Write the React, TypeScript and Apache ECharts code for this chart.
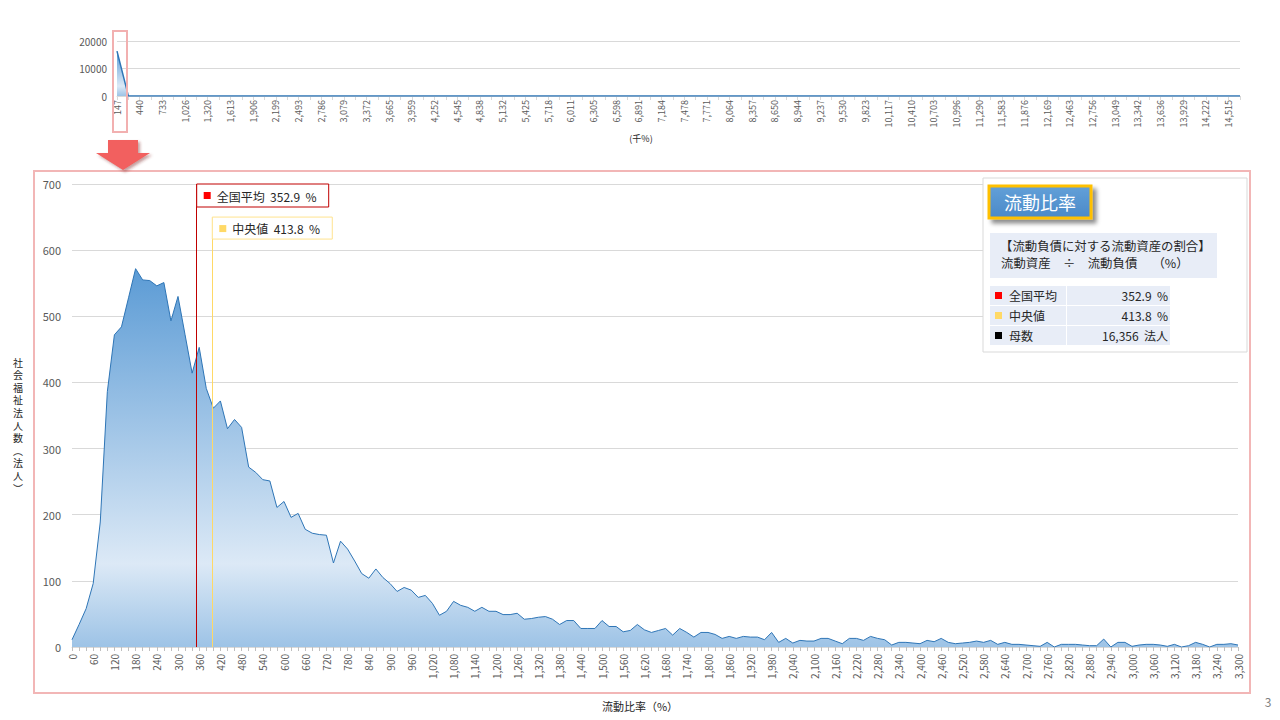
import React, { useEffect, useRef } from "react";
import * as echarts from "echarts";

// ---- Main histogram: bins of 20 % (0 … 3,300 %) ----
const BIN_WIDTH = 20;
const mainCounts = [
  11, 34, 58, 96, 189, 386, 472, 484, 528, 572,
  555, 554, 546, 551, 493, 530, 472, 414, 453, 391,
  361, 372, 330, 344, 332, 272, 264, 253, 251, 211,
  220, 196, 202, 178, 172, 170, 169, 127, 160, 148,
  130, 111, 104, 118, 105, 96, 84, 90, 86, 75,
  78, 66, 48, 54, 69, 63, 60, 54, 60, 54,
  54, 49, 49, 51, 42, 43, 45, 46, 42, 34,
  40, 40, 28, 28, 28, 40, 31, 31, 23, 25,
  34, 26, 22, 25, 28, 18, 28, 22, 15, 22,
  22, 19, 13, 16, 13, 16, 15, 15, 11, 22,
  7, 13, 6, 10, 9, 9, 13, 13, 9, 5,
  13, 13, 10, 16, 13, 11, 3, 7, 7, 6,
  5, 10, 8, 13, 7, 5, 6, 7, 9, 7,
  10, 4, 7, 4, 4, 3, 2, 1, 7, 0,
  4, 4, 4, 3, 2, 2, 12, 0, 7, 7,
  1, 3, 4, 4, 3, 1, 4, 0, 2, 7,
  4, 0, 4, 4, 5, 3,
];
const MAIN_X_MAX = 3300;
const MAIN_X_LABEL_STEP = 60;
const MAIN_Y_MAX = 700;
const MAIN_Y_STEP = 100;

const MEAN = 352.9;
const MEDIAN = 413.8;
const MEDIAN_MARK_X = 397; // where the reference places the median marker
const MEDIAN_MARK_TOP = 650;
const TOTAL = "16,356";

// ---- Overview chart (千%) ----
const topLabels = [
  "147", "440", "733", "1,026", "1,320", "1,613", "1,906", "2,199", "2,493", "2,786",
  "3,079", "3,372", "3,665", "3,959", "4,252", "4,545", "4,838", "5,132", "5,425", "5,718",
  "6,011", "6,305", "6,598", "6,891", "7,184", "7,478", "7,771", "8,064", "8,357", "8,650",
  "8,944", "9,237", "9,530", "9,823", "10,117", "10,410", "10,703", "10,996", "11,290", "11,583",
  "11,876", "12,169", "12,463", "12,756", "13,049", "13,342", "13,636", "13,929", "14,222", "14,515",
];
const topCounts = [
  16300, 30, 12, 5, 3, 2, 1, 1, 1, 0,
  0, 0, 0, 0, 0, 0, 0, 0, 0, 0,
  0, 0, 0, 0, 0, 0, 0, 0, 0, 0,
  0, 0, 0, 0, 0, 0, 0, 0, 0, 0,
  0, 0, 0, 0, 0, 0, 0, 0, 0, 0,
  0, 0, 0, 0, 0, 0, 0, 0, 0, 0,
  0, 0, 0, 0, 0, 0, 0, 0, 0, 0,
  0, 0, 0, 0, 0, 0, 0, 0, 0, 0,
  0, 0, 0, 0, 0, 0, 0, 0, 0, 0,
  0, 0, 0, 0, 0, 0, 0, 0, 0, 0,
];

const FONT = "'Noto Sans CJK JP', 'Noto Sans', sans-serif";
const GREY = "#595959";
const TEXT = "#262626";

const areaGradient = () =>
  new echarts.graphic.LinearGradient(0, 0, 0, 1, [
    { offset: 0, color: "#5b9bd5" },
    { offset: 0.78, color: "#dce9f6" },
    { offset: 1, color: "#9dc3e6" },
  ]);

function txt(text: string, x: number, y: number, size: number, fill: string, align = "left", extra: any = {}) {
  return {
    type: "text",
    silent: true,
    z: 20,
    style: {
      text, x, y, fill,
      fontSize: size, fontFamily: FONT,
      align, textAlign: align,
      verticalAlign: "middle", textVerticalAlign: "middle",
      ...extra,
    },
  };
}

function rect(x: number, y: number, w: number, h: number, style: any, z = 10) {
  return { type: "rect", silent: true, z, shape: { x, y, width: w, height: h }, style };
}

export default function App() {
  const ref = useRef<HTMLDivElement>(null);
  useEffect(() => {
    if (!ref.current) return;
    const chart = echarts.init(ref.current, null, { renderer: "svg" });

    const mainData = mainCounts.map((c, i) => [i * BIN_WIDTH, c]);
    const topCategories: string[] = [];
    topLabels.forEach((l) => {
      topCategories.push(l);
      topCategories.push(l + " ");
    });

    chart.setOption({
      animation: false,
      textStyle: { fontFamily: FONT },
      grid: [
        { left: 117, right: 40, top: 41, height: 55 },
        { left: 72, right: 42, top: 184, height: 463 },
      ],
      xAxis: [
        {
          type: "category",
          gridIndex: 0,
          boundaryGap: false,
          data: topCategories,
          axisLine: { lineStyle: { color: "#d9d9d9" } },
          axisTick: { interval: 0, length: 4, lineStyle: { color: "#d9d9d9" } },
          axisLabel: { interval: 1, rotate: 90, fontSize: 9, color: GREY, margin: 4, fontFamily: FONT },
          splitLine: { show: false },
        },
        {
          type: "value",
          gridIndex: 1,
          min: 0,
          max: MAIN_X_MAX,
          interval: MAIN_X_LABEL_STEP,
          axisLine: { lineStyle: { color: "#d9d9d9" } },
          axisTick: { show: true, length: 4, lineStyle: { color: "#bfbfbf" } },
          minorTick: { show: true, splitNumber: 3, length: 4, lineStyle: { color: "#bfbfbf" } },
          splitLine: { show: false },
          axisLabel: {
            rotate: 90,
            fontSize: 10,
            color: GREY,
            margin: 7,
            fontFamily: FONT,
            showMaxLabel: true,
            formatter: (v: number) => v.toLocaleString("en-US"),
          },
        },
      ],
      yAxis: [
        {
          type: "value",
          gridIndex: 0,
          min: 0,
          max: 20000,
          interval: 10000,
          axisLine: { show: false },
          axisTick: { show: false },
          splitLine: { lineStyle: { color: "#d9d9d9" } },
          axisLabel: {
            fontSize: 10, color: GREY, margin: 10, fontFamily: FONT,
            formatter: (v: number) => String(v),
          },
        },
        {
          type: "value",
          gridIndex: 1,
          min: 0,
          max: MAIN_Y_MAX,
          interval: MAIN_Y_STEP,
          axisLine: { show: false },
          axisTick: { show: false },
          splitLine: { lineStyle: { color: "#d9d9d9" } },
          axisLabel: { fontSize: 11, color: GREY, margin: 11, fontFamily: FONT },
        },
      ],
      series: [
        {
          type: "line",
          xAxisIndex: 0,
          yAxisIndex: 0,
          data: topCounts,
          showSymbol: false,
          symbol: "none",
          lineStyle: { color: "#2e75b6", width: 1.5 },
          areaStyle: { color: areaGradient(), opacity: 1 },
          silent: true,
        },
        {
          type: "line",
          xAxisIndex: 1,
          yAxisIndex: 1,
          data: mainData,
          showSymbol: false,
          symbol: "none",
          lineStyle: { color: "#2e75b6", width: 1 },
          areaStyle: { color: areaGradient(), opacity: 1 },
          silent: true,
          markLine: {
            silent: true,
            symbol: ["none", "none"],
            label: { show: false },
            data: [
              [
                { coord: [MEAN, 0], lineStyle: { color: "#c00000", width: 1, type: "solid" } },
                { coord: [MEAN, MAIN_Y_MAX] },
              ],
              [
                { coord: [MEDIAN_MARK_X, 0], lineStyle: { color: "#ffd966", width: 1, type: "solid" } },
                { coord: [MEDIAN_MARK_X, MEDIAN_MARK_TOP] },
              ],
            ],
          },
        },
      ],
    });

    const [rx, ry] = chart.convertToPixel({ gridIndex: 1 }, [MEAN, MAIN_Y_MAX]) as number[];
    const [mx, my] = chart.convertToPixel({ gridIndex: 1 }, [MEDIAN_MARK_X, MEDIAN_MARK_TOP]) as number[];

    // vertical (stacked) axis title, one glyph per element
    const yNameChars = "社会福祉法人数︵法人︶".split("");
    const yNameGraphics = yNameChars.map((ch, i) =>
      txt(ch, 18, 362 + i * 12.6, 10, TEXT, "center", { lineHeight: 11 })
    );

    const graphics: any[] = [
      // outer frames
      rect(34, 171, 1216, 522, { fill: "none", stroke: "#f2b6b6", lineWidth: 2 }, 1),
      rect(113, 31, 14, 101, { fill: "none", stroke: "#f2b0b0", lineWidth: 2 }, 5),
      {
        type: "polygon",
        silent: true,
        z: 5,
        shape: {
          points: [[108, 140], [138, 140], [138, 153], [150, 153], [123, 170], [96, 153], [108, 153]],
        },
        style: {
          fill: "#f2605e",
          shadowBlur: 3,
          shadowOffsetX: 2,
          shadowOffsetY: 2,
          shadowColor: "rgba(120,40,40,0.45)",
        },
      },
      // axis titles
      ...yNameGraphics,
      txt("流動比率（%）", 640, 706, 11, TEXT, "center"),
      txt("(千%)", 641, 138, 9, TEXT, "center"),
      txt("3", 1268, 701, 12, "#7f7f7f", "center"),

      // annotation: mean
      rect(rx, ry, 132, 23, { fill: "#ffffff", stroke: "#c00000", lineWidth: 1 }, 15),
      rect(rx + 7, ry + 8, 7, 7, { fill: "#ff0000" }, 16),
      txt(`全国平均  ${MEAN}  %`, rx + 20, ry + 12, 12, TEXT),
      // annotation: median
      rect(mx, my, 120, 22, { fill: "#ffffff", stroke: "#ffe38f", lineWidth: 1 }, 15),
      rect(mx + 7, my + 8, 7, 7, { fill: "#ffd966" }, 16),
      txt(`中央値  ${MEDIAN}  %`, mx + 20, my + 11.5, 12, TEXT),

      // info panel
      rect(983, 178, 264, 174, { fill: "#ffffff", stroke: "#d9d9d9", lineWidth: 1 }, 8),
      rect(989, 186, 102, 32, {
        fill: new echarts.graphic.LinearGradient(0, 0, 0, 1, [
          { offset: 0, color: "#62a0d8" },
          { offset: 1, color: "#4a89c8" },
        ]),
        stroke: "#ffc000",
        lineWidth: 3,
        shadowBlur: 4,
        shadowOffsetX: 4,
        shadowOffsetY: 4,
        shadowColor: "rgba(0,0,0,0.45)",
      }, 12),
      txt("流動比率", 1040, 202, 18, "#ffffff", "center"),
      rect(990, 233, 227, 45, { fill: "#e8edf7" }, 12),
      txt("【流動負債に対する流動資産の割合】", 1000, 246, 12.4, TEXT),
      txt("流動資産　÷　流動負債　 （%）", 1001, 263, 12.4, TEXT),

      rect(990, 286, 76, 19, { fill: "#e8edf7" }, 12),
      rect(1067, 286, 103, 19, { fill: "#e8edf7" }, 12),
      rect(990, 306, 76, 19, { fill: "#e8edf7" }, 12),
      rect(1067, 306, 103, 19, { fill: "#e8edf7" }, 12),
      rect(990, 326, 76, 19, { fill: "#e8edf7" }, 12),
      rect(1067, 326, 103, 19, { fill: "#e8edf7" }, 12),
      rect(995, 292, 7, 7, { fill: "#ff0000" }, 13),
      rect(995, 312, 7, 7, { fill: "#ffd966" }, 13),
      rect(995, 332, 7, 7, { fill: "#000000" }, 13),
      txt("全国平均", 1009, 295.5, 12, TEXT),
      txt("中央値", 1009, 315.5, 12, TEXT),
      txt("母数", 1009, 335.5, 12, TEXT),
      txt(`${MEAN}  %`, 1168, 295.5, 12, TEXT, "right"),
      txt(`${MEDIAN}  %`, 1168, 315.5, 12, TEXT, "right"),
      txt(`${TOTAL}  法人`, 1168, 335.5, 12, TEXT, "right"),
    ];

    chart.setOption({ graphic: graphics });

    return () => chart.dispose();
  }, []);

  return (
    <div
      ref={ref}
      style={{ position: "fixed", left: 0, top: 0, width: 1280, height: 720, background: "#ffffff" }}
    />
  );
}
